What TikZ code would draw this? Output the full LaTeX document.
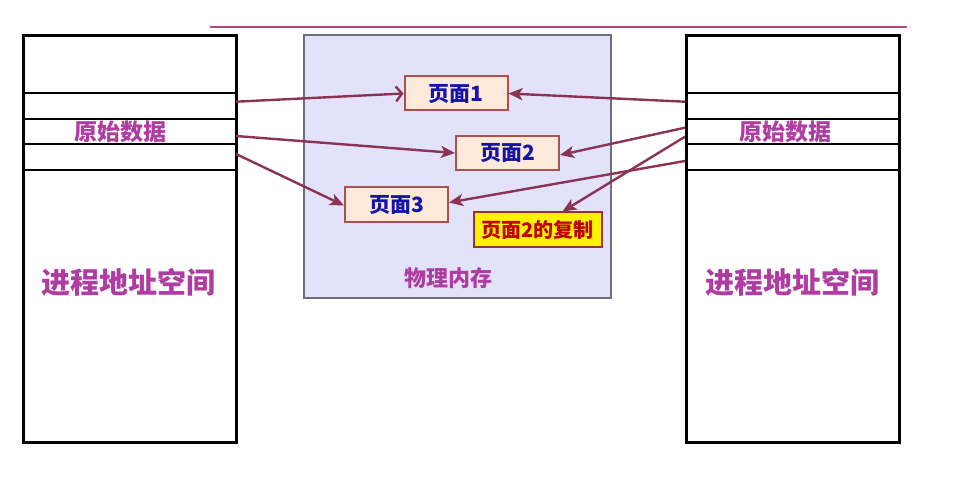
\documentclass[tikz,border=0pt]{standalone}
\usepackage{fontspec}
\newfontfamily\cjk{Noto Sans CJK SC}
\usetikzlibrary{arrows.meta,calc}
\definecolor{arrc}{RGB}{140,50,85}
\definecolor{magtext}{RGB}{175,60,160}
\definecolor{toplinec}{RGB}{180,70,130}
\definecolor{memfill}{RGB}{226,226,250}
\definecolor{memborder}{RGB}{110,110,125}
\definecolor{pfill}{RGB}{253,233,217}
\definecolor{pborder}{RGB}{170,80,80}
\definecolor{ptext}{RGB}{20,20,170}
\definecolor{cborder}{RGB}{150,50,50}
\definecolor{ctext}{RGB}{190,0,0}
\tikzset{
  procbox/.style={draw=black, line width=2.6pt, minimum width=213pt, minimum height=407pt, anchor=north west, inner sep=0pt},
  rowline/.style={draw=black, line width=2.2pt},
  membox/.style={draw=memborder, fill=memfill, line width=1.8pt, minimum width=307pt, minimum height=263pt, anchor=north west, inner sep=0pt},
  pagebox/.style={draw=pborder, fill=pfill, line width=2pt, minimum width=103pt, minimum height=34pt, inner sep=0pt, text=ptext, font=\cjk\bfseries\fontsize{21}{21}\selectfont},
  copybox/.style={draw=cborder, fill=yellow, line width=2pt, minimum width=128pt, minimum height=34pt, inner sep=0pt, text=ctext, font=\cjk\bfseries\fontsize{20}{20}\selectfont},
  magbig/.style={text=magtext, font=\cjk\bfseries\fontsize{29}{29}\selectfont, inner sep=0pt},
  magmid/.style={text=magtext, font=\cjk\bfseries\fontsize{23}{23}\selectfont, inner sep=0pt},
  arr/.style={draw=arrc, line width=2.4pt, -{Stealth[length=14pt,width=12pt,inset=3.5pt]}},
  arropen/.style={draw=arrc, line width=2.4pt, -{Straight Barb[length=6pt,width=15pt,line width=2.4pt]}},
}
\begin{document}
\begin{tikzpicture}[x=1pt,y=-1pt]
\useasboundingbox (0,0) rectangle (974,489);
% top line
\coordinate (t1) at (210,27);
\coordinate (t2) at (907,27);
\draw[draw=toplinec, line width=2.4pt] (t1) -- (t2);
% memory
\node[membox] (mem) at (303,34) {};
\node[magmid, font=\cjk\bfseries\fontsize{22}{22}\selectfont] (memlabel) at (448,278) {物理内存};
% process boxes
\node[procbox] (L) at (22,34) {};
\node[procbox] (R) at (685,34) {};
\foreach \yy in {93,119,144,170}{
  \draw[rowline] (22,\yy) -- (235,\yy);
  \draw[rowline] (685,\yy) -- (898,\yy);
}
\node[magmid] (ldata) at (120,132) {原始数据};
\node[magmid] (rdata) at (785,132) {原始数据};
\node[magbig] (lspace) at (128,282) {进程地址空间};
\node[magbig] (rspace) at (792,282) {进程地址空间};
% pages
\node[pagebox] (p1) at (456,93.5) {页面1};
\node[pagebox] (p2) at (507.5,153) {页面2};
\node[pagebox] (p3) at (396.5,204.5) {页面3};
\node[copybox] (cp) at (537.5,229.5) {页面2的复制};
% connector end points on the boxes
\coordinate (l1) at (236,101.7);
\coordinate (l2) at (236,136);
\coordinate (l3) at (236,154);
\coordinate (r1) at (685,101.7);
\coordinate (r2) at (685,127.7);
\coordinate (r3) at (685,136.7);
\coordinate (r4) at (685,161);
% arrows
\draw[arropen] (l1) -- (p1.west);
\draw[arr] (l2) -- (p2.west);
\draw[arr] (l3) -- ([yshift=-1pt]p3.west);
\draw[arr] (r1) -- (p1.east);
\draw[arr] (r2) -- ([yshift=-2pt]p2.east);
\draw[arr] (r3) -- ([xshift=25pt]cp.north);
\draw[arr] (r4) -- ([yshift=2pt]p3.east);
\end{tikzpicture}
\end{document}
